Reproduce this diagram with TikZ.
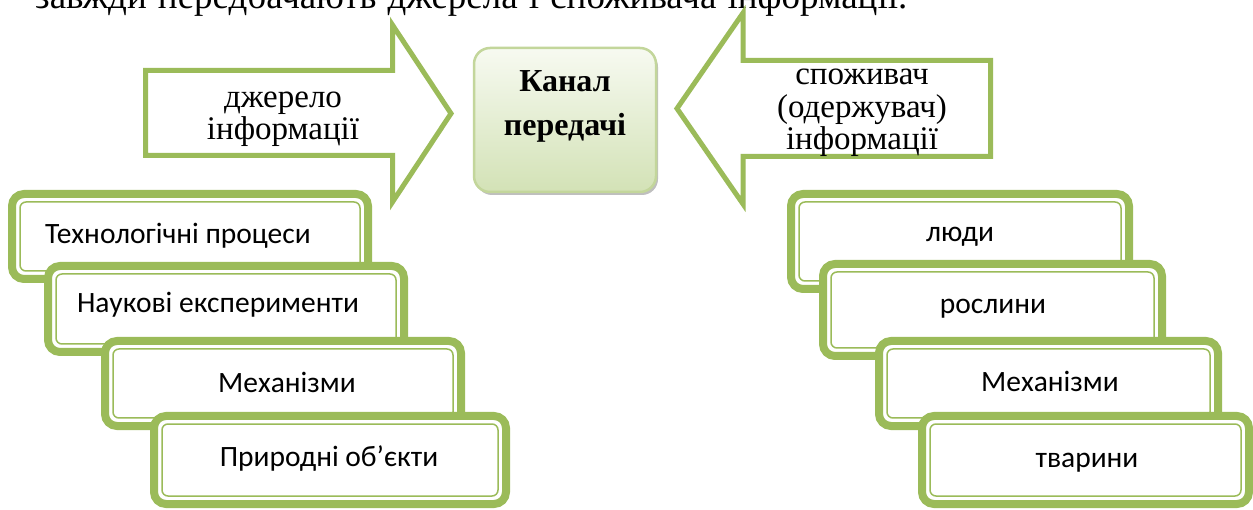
\documentclass[tikz,border=0pt]{standalone}
\usepackage{fontspec}
\setmainfont{Liberation Serif}
\newfontfamily\calfont{Carlito}
\usetikzlibrary{shadows}
\definecolor{olive}{HTML}{9BBB59}
\definecolor{canalborder}{HTML}{C3D69B}
\definecolor{canaltop}{HTML}{F7FAF1}
\definecolor{canalbot}{HTML}{D3E2B6}
\newcommand\stackbox[8]{%
  \node[sbox, anchor=north west, minimum width=#4-8, minimum height=#5-8] (#1) at (#2+4,#3+4) {};
  \draw[sinner] ([shift={(8,8)}]#1.north west) rectangle ([shift={(-8,-8)}]#1.south east);
  \node[itemtext] (#1t) at (#6,#7) {#8};
}
\begin{document}
\begin{tikzpicture}[x=1pt,y=-1pt,
  arrowshape/.style={draw=olive, line width=5pt, fill=white, line join=miter, miter limit=10},
  serif/.style={font=\fontsize{33}{32.5}\selectfont, align=center, inner sep=0},
  itemtext/.style={font=\calfont\fontsize{29.5}{33}\selectfont, inner sep=0, anchor=base},
  sbox/.style={draw=olive, line width=8pt, rounded corners=12pt, fill=white, outer sep=0pt, inner sep=0pt},
  sinner/.style={draw=olive, line width=1.5pt, rounded corners=6pt},
  canal/.style={draw=canalborder, line width=2.5pt, rounded corners=16pt, top color=canaltop, bottom color=canalbot,
    minimum width=182pt, minimum height=144pt, outer sep=0pt,
    drop shadow={shadow xshift=2pt, shadow yshift=-3pt, fill=black, opacity=0.25}},
]
\useasboundingbox (0,0) rectangle (1253,510);
\clip (0,0) rectangle (1253,510);
\fill[white] (0,0) rectangle (1253,510);

% clipped line of text above
\node[serif, font=\fontsize{37}{40}\selectfont, anchor=base west] (toptext) at (35,9) {\makebox[872pt][s]{завжди передбачають джерела і споживача інформації.}};

% left arrow (source)
\draw[arrowshape] (145.5,70.5) -- (392.5,70.5) -- (392.5,25) -- (451,113.5) -- (392.5,202) -- (392.5,155.5) -- (145.5,155.5) -- cycle;
\node[serif] (src) at (283,119) {джерело\\інформації};

% right arrow (receiver)
\draw[arrowshape] (990.5,60.5) -- (743,60.5) -- (743,13) -- (677,108.5) -- (743,204) -- (743,156.5) -- (990.5,156.5) -- cycle;
\node[serif] (rcv) at (862,113) {споживач\\(одержувач)\\інформації};

% channel
\node[canal] (canal) at (565,120) {};
\node[serif, font=\bfseries\fontsize{32}{44}\selectfont] (canaltext) at (565,106) {Канал\\передачі};

% left stack
\stackbox{l1}{8}{190}{364}{93}{178}{243.5}{Технологічні процеси}
\stackbox{l2}{44}{262}{364}{94}{218}{312.5}{Наукові експерименти}
\stackbox{l3}{101}{337}{364}{93}{287}{392.5}{Механізми}
\stackbox{l4}{150}{412}{360}{96}{329}{466.5}{Природні об’єкти}

% right stack
\stackbox{r1}{787}{190}{346}{103}{960}{242}{люди}
\stackbox{r2}{819}{260}{347}{100}{993}{314}{рослини}
\stackbox{r3}{875}{337}{347}{93}{1050}{391.5}{Механізми}
\stackbox{r4}{918}{412}{335}{96}{1087}{467}{тварини}
\end{tikzpicture}
\end{document}
